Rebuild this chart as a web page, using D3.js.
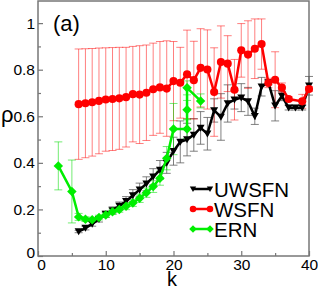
<!DOCTYPE html>
<html>
<head>
<meta charset="utf-8">
<script src="https://cdn.jsdelivr.net/npm/d3@7"></script>
<style>
  body { margin: 0; background: #fff; }
  svg { display: block; font-family: "Liberation Sans", Arial, sans-serif; }
</style>
</head>
<body>
<div id="chart"></div>
<script>
// UWSFN (black, down triangles)
const uwsfnK   = [6, 7, 8, 9, 10, 11, 12, 13, 14, 15, 16, 17, 18, 19, 20, 21, 22, 23, 24, 25, 26, 27, 28, 29, 30, 31, 32, 33, 34, 35, 36, 37, 38, 39, 40];
const uwsfnRho = [0.105, 0.12, 0.138, 0.158, 0.18, 0.196, 0.215, 0.235, 0.26, 0.285, 0.31, 0.34, 0.37, 0.40, 0.45, 0.49, 0.50, 0.52, 0.55, 0.525, 0.625, 0.597, 0.655, 0.671, 0.68, 0.664, 0.60, 0.727, 0.745, 0.645, 0.687, 0.637, 0.637, 0.637, 0.731];
const uwsfnErr = [0.005, 0.008, 0.01, 0.012, 0.014, 0.015, 0.017, 0.02, 0.025, 0.028, 0.03, 0.035, 0.04, 0.045, 0.06, 0.09, 0.07, 0.07, 0.07, 0.07, 0.05, 0.1, 0.08, 0.04, 0.06, 0.06, 0.035, 0.04, 0.01, 0.065, 0.02, 0.01, 0.01, 0.01, 0.04];

// WSFN (red, circles)
const wsfnK   = [6, 7, 8, 9, 10, 11, 12, 13, 14, 15, 16, 17, 18, 19, 20, 21, 22, 23, 24, 25, 26, 27, 28, 29, 30, 31, 32, 33, 34, 35, 36, 37, 39, 40];
const wsfnRho = [0.652, 0.656, 0.660, 0.666, 0.672, 0.674, 0.677, 0.682, 0.695, 0.693, 0.701, 0.716, 0.724, 0.719, 0.751, 0.744, 0.780, 0.755, 0.808, 0.801, 0.704, 0.833, 0.826, 0.714, 0.883, 0.865, 0.890, 0.910, 0.743, 0.757, 0.723, 0.674, 0.664, 0.717];
const wsfnErr = [0.237, 0.234, 0.231, 0.227, 0.222, 0.221, 0.219, 0.214, 0.205, 0.21, 0.205, 0.198, 0.197, 0.205, 0.17, 0.152, 0.19, 0.167, 0.168, 0.17, 0.19, 0.155, 0.12, 0.13, 0.115, 0.145, 0.128, 0.108, 0.02, 0.12, 0.02, 0.01, 0.03, 0.01];

// ERN (green, diamonds)
const ernK   = [3, 5, 6, 7, 8, 9, 10, 11, 12, 13, 14, 15, 16, 17, 18, 19, 20, 22, 22, 22, 24];
const ernRho = [0.387, 0.277, 0.168, 0.158, 0.156, 0.165, 0.176, 0.19, 0.20, 0.214, 0.228, 0.248, 0.272, 0.298, 0.334, 0.42, 0.545, 0.545, 0.628, 0.722, 0.666];
const ernErr = [0.103, 0.135, 0.015, 0.01, 0.01, 0.01, 0.01, 0.012, 0.012, 0.015, 0.015, 0.018, 0.02, 0.025, 0.03, 0.05, 0.11, 0.04, 0.04, 0.03, 0.03];

const xTicks = [0, 10, 20, 30, 40];
const yTicks = [0, 0.2, 0.4, 0.6, 0.8, 1];
const seriesNames = ["UWSFN", "WSFN", "ERN"];

const width = 318, height = 291;
const margin = { top: 1, right: 9, bottom: 35, left: 38 };

const svg = d3.select("#chart").append("svg")
  .attr("width", width)
  .attr("height", height);

const x = d3.scaleLinear().domain([0, 40]).range([margin.left, width - margin.right]);
const y = d3.scaleLinear().domain([0, 1.095]).range([height - margin.bottom, margin.top]);

const zip = (ks, vs, es) => ks.map((k, i) => ({ k: k, v: vs[i], e: es[i] }));

const series = [
  { name: seriesNames[0], data: zip(uwsfnK, uwsfnRho, uwsfnErr), color: "#000", bar: "#555", barOp: 0.75, shape: "tri" },
  { name: seriesNames[1], data: zip(wsfnK, wsfnRho, wsfnErr), color: "#ff0000", bar: "#ff0000", barOp: 0.5, shape: "circle" },
  { name: seriesNames[2], data: zip(ernK, ernRho, ernErr), color: "#00ee00", bar: "#00dd00", barOp: 0.55, shape: "diamond" }
];

// symbols
const symPath = {
  tri: d3.symbol().type({ draw: (ctx, s) => { const r = Math.sqrt(s) / 2; ctx.moveTo(-r, -r * 0.8); ctx.lineTo(r, -r * 0.8); ctx.lineTo(0, r * 0.95); ctx.closePath(); } }).size(64)(),
  circle: d3.symbol().type(d3.symbolCircle).size(52)(),
  diamond: d3.symbol().type({ draw: (ctx, s) => { const r = Math.sqrt(s) / 2; ctx.moveTo(0, -r); ctx.lineTo(r, 0); ctx.lineTo(0, r); ctx.lineTo(-r, 0); ctx.closePath(); } }).size(90)()
};

// frame
const plotW = width - margin.right - margin.left;
const plotH = height - margin.bottom - margin.top;
svg.append("rect")
  .attr("x", margin.left).attr("y", margin.top)
  .attr("width", plotW).attr("height", plotH)
  .attr("fill", "none").attr("stroke", "#777").attr("stroke-width", 1.5);

// axes (ticks point inward)
const xAxis = svg.append("g")
  .attr("transform", `translate(0,${height - margin.bottom})`)
  .call(d3.axisBottom(x).tickValues(xTicks).tickSize(-5).tickPadding(3).tickFormat(d3.format("d")));
svg.append("g")
  .attr("transform", `translate(0,${height - margin.bottom})`)
  .call(d3.axisBottom(x).tickValues([5, 15, 25, 35]).tickSize(-3).tickFormat(""));
const yAxis = svg.append("g")
  .attr("transform", `translate(${margin.left},0)`)
  .call(d3.axisLeft(y).tickValues(yTicks).tickSize(-5).tickPadding(3).tickFormat(d => d === 0 ? "0" : d3.format("")(d)));
svg.append("g")
  .attr("transform", `translate(${margin.left},0)`)
  .call(d3.axisLeft(y).tickValues([0.1, 0.3, 0.5, 0.7, 0.9]).tickSize(-3).tickFormat(""));

svg.selectAll(".domain").remove();
svg.selectAll(".tick line").attr("stroke", "#777").attr("stroke-width", 1.2);
svg.selectAll(".tick text").attr("font-size", 15.5).attr("fill", "#000")
  .attr("font-family", "Liberation Sans, Arial, sans-serif");
xAxis.selectAll(".tick").filter(d => d === 0).select("text").attr("dx", 3);
yAxis.selectAll(".tick").filter(d => d === 0).select("text").attr("dy", "0.1em");

// error bars
series.forEach(s => {
  const g = svg.append("g").attr("stroke", s.bar).attr("stroke-opacity", s.barOp).attr("stroke-width", 1);
  g.selectAll("line.v").data(s.data).join("line")
    .attr("x1", d => x(d.k)).attr("x2", d => x(d.k))
    .attr("y1", d => y(d.v - d.e)).attr("y2", d => y(d.v + d.e));
  g.selectAll("line.t").data(s.data).join("line")
    .attr("x1", d => x(d.k) - 4).attr("x2", d => x(d.k) + 4)
    .attr("y1", d => y(d.v + d.e)).attr("y2", d => y(d.v + d.e));
  g.selectAll("line.b").data(s.data).join("line")
    .attr("x1", d => x(d.k) - 4).attr("x2", d => x(d.k) + 4)
    .attr("y1", d => y(d.v - d.e)).attr("y2", d => y(d.v - d.e));
});

// lines + markers
const line = d3.line().x(d => x(d.k)).y(d => y(d.v));
series.forEach(s => {
  svg.append("path").datum(s.data)
    .attr("d", line)
    .attr("fill", "none").attr("stroke", s.color).attr("stroke-width", 2.5);
  svg.append("g").selectAll("path").data(s.data).join("path")
    .attr("d", symPath[s.shape])
    .attr("transform", d => `translate(${x(d.k)},${y(d.v)})`)
    .attr("fill", s.color);
});

// legend
const legend = svg.append("g");
series.forEach((s, i) => {
  const ly = 189 + i * 20;
  legend.append("line")
    .attr("x1", 193).attr("x2", 210).attr("y1", ly).attr("y2", ly)
    .attr("stroke", s.color).attr("stroke-width", 2.5);
  [193, 210].forEach(px => {
    legend.append("path").attr("d", symPath[s.shape])
      .attr("transform", `translate(${px},${ly}) scale(0.8)`)
      .attr("fill", s.color);
  });
  legend.append("text")
    .attr("x", 214).attr("y", ly + 7.5)
    .attr("font-size", 20.5)
    .text(s.name);
});

// panel label and axis titles
svg.append("text").attr("x", 53).attr("y", 31).attr("font-size", 22).text("(a)");
svg.append("text").attr("x", 1).attr("y", 122).attr("font-size", 22).text("ρ");
svg.append("text").attr("x", 167).attr("y", 286).attr("font-size", 20).text("k");
</script>
</body>
</html>
